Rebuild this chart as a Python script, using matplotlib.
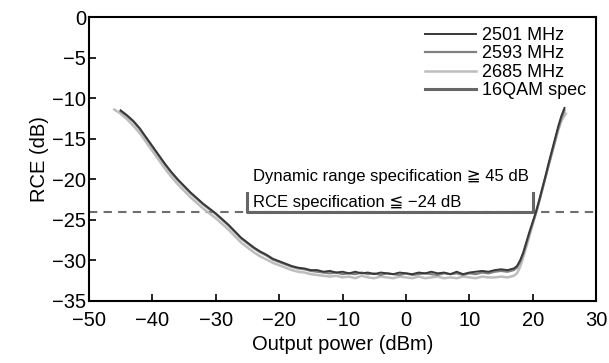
import matplotlib
matplotlib.use('Agg')
import matplotlib.pyplot as plt

plt.rcParams['font.family'] = ['Liberation Sans', 'DejaVu Sans']

# output power (dBm)
x_main = [-45, -44, -43, -42, -41, -40, -39, -38, -37, -36, -35, -34, -33, -32, -31,
          -30, -29, -28, -27, -26, -25, -24, -23, -22, -21, -20, -19, -18, -17, -16,
          -15, -14, -13, -12, -11, -10, -9, -8, -7, -6, -5, -4, -3, -2, -1,
          0, 1, 2, 3, 4, 5, 6, 7, 8, 9, 10, 11, 12, 13, 14,
          15, 16, 17, 17.5, 18, 18.5, 19, 19.5, 20, 20.5, 21, 21.5, 22, 22.5, 23,
          23.5, 24, 24.5, 25]

rce_2501 = [-11.5, -12.1, -12.8, -13.7, -14.8, -15.9, -17.0, -18.1, -19.1, -20.0, -20.8, -21.6, -22.3, -23.0, -23.6,
            -24.2, -24.9, -25.6, -26.4, -27.2, -27.8, -28.4, -28.9, -29.3, -29.8, -30.1, -30.4, -30.7, -30.9, -31.0,
            -31.2, -31.2, -31.4, -31.3, -31.5, -31.4, -31.6, -31.4, -31.6, -31.5, -31.7, -31.5, -31.6, -31.7, -31.5,
            -31.6, -31.7, -31.5, -31.6, -31.4, -31.6, -31.5, -31.7, -31.4, -31.7, -31.5, -31.4, -31.3, -31.4, -31.2,
            -31.1, -31.2, -31.0, -30.7, -30.0, -29.0, -27.7, -26.4, -25.2, -24.0, -22.6, -21.1, -19.6, -18.0, -16.5,
            -15.0, -13.5, -12.2, -11.2]

rce_2593 = [-11.6, -12.2, -12.9, -13.8, -14.9, -16.0, -17.1, -18.2, -19.2, -20.1, -20.9, -21.7, -22.4, -23.1, -23.7,
            -24.3, -25.0, -25.7, -26.5, -27.3, -27.9, -28.5, -29.0, -29.4, -29.9, -30.2, -30.5, -30.8, -31.0, -31.1,
            -31.3, -31.4, -31.5, -31.6, -31.5, -31.7, -31.6, -31.7, -31.5, -31.7, -31.6, -31.8, -31.6, -31.7, -31.8,
            -31.6, -31.8, -31.7, -31.6, -31.7, -31.8, -31.6, -31.7, -31.6, -31.8, -31.6, -31.7, -31.5, -31.6, -31.4,
            -31.3, -31.4, -31.2, -30.9, -30.2, -29.2, -27.9, -26.6, -25.4, -24.2, -22.8, -21.3, -19.8, -18.3, -16.8,
            -15.3, -13.8, -12.5, -11.5]

x_2685 = [-46, -45, -44, -43, -42, -41, -40, -39, -38, -37, -36, -35, -34, -33, -32, -31,
          -30, -29, -28, -27, -26, -25, -24, -23, -22, -21, -20, -19, -18, -17, -16,
          -15, -14, -13, -12, -11, -10, -9, -8, -7, -6, -5, -4, -3, -2, -1,
          0, 1, 2, 3, 4, 5, 6, 7, 8, 9, 10, 11, 12, 13, 14,
          15, 16, 17, 17.5, 18, 18.5, 19, 19.5, 20, 20.5, 21, 21.5, 22, 22.5, 23,
          23.5, 24, 24.5, 25.2]

rce_2685 = [-11.4, -11.9, -12.6, -13.4, -14.3, -15.4, -16.5, -17.6, -18.7, -19.7, -20.6, -21.4, -22.2, -22.9, -23.6, -24.2,
            -24.8, -25.5, -26.2, -27.0, -27.8, -28.4, -29.0, -29.5, -29.9, -30.3, -30.6, -30.9, -31.2, -31.4, -31.5,
            -31.7, -31.8, -31.9, -32.0, -31.9, -32.1, -32.0, -32.2, -31.9, -32.1, -32.2, -32.0, -32.1, -32.2, -32.0,
            -32.1, -32.2, -32.0, -32.2, -32.1, -32.0, -32.2, -32.1, -32.2, -32.0, -32.1, -32.2, -32.0, -32.1, -32.1,
            -32.0, -32.1, -31.9, -31.6, -30.8, -29.6, -28.3, -26.9, -25.5, -24.1, -22.7, -21.2, -19.7, -18.2, -16.8,
            -15.4, -14.0, -12.8, -11.9]

spec_x = [-25, -25, 20, 20]
spec_y = [-21.7, -24, -24, -21.7]
rce_limit = -24

fig = plt.figure(figsize=(6.09, 3.63), dpi=100)
ax = fig.add_axes([0.146, 0.171, 0.833, 0.782])

ax.axhline(rce_limit, color='#6e6e6e', linestyle=(0, (4, 3)), linewidth=1.5, zorder=1)
ax.plot(x_2685, rce_2685, color='#bdbdbd', linewidth=1.8, label='2685 MHz', zorder=2)
ax.plot(x_main, rce_2593, color='#808080', linewidth=1.6, label='2593 MHz', zorder=3)
ax.plot(x_main, rce_2501, color='#383838', linewidth=1.4, label='2501 MHz', zorder=4)
ax.plot(spec_x, spec_y, color='#666666', linewidth=2.2, label='16QAM spec', zorder=2)

ax.text(-24.1, -19.6, 'Dynamic range specification \u2267 45 dB', fontsize=12, va='center', ha='left')
ax.text(-24.1, -22.9, 'RCE specification \u2266 \u221224 dB', fontsize=12, va='center', ha='left')

handles, labels = ax.get_legend_handles_labels()
order = [2, 1, 0, 3]
ax.legend([handles[i] for i in order], [labels[i] for i in order], loc='upper right',
          frameon=False, fontsize=13, handlelength=2.8, handletextpad=0.35,
          labelspacing=0.08, borderaxespad=0.15)

ax.set_xlim(-50, 30)
ax.set_ylim(-35, 0)
ax.set_xticks(range(-50, 31, 10))
ax.set_yticks(range(-35, 1, 5))
ax.tick_params(direction='in', length=5, width=1.2, labelsize=14.5, top=False, right=False)
ax.tick_params(axis='x', pad=7)
ax.tick_params(axis='y', pad=2)
for s in ax.spines.values():
    s.set_linewidth(1.5)
    s.set_zorder(5)

ax.set_xlabel('Output power (dBm)', fontsize=14.5, labelpad=4)
ax.set_ylabel('RCE (dB)', fontsize=14.5, labelpad=2)

fig.savefig('out.png', dpi=100)
